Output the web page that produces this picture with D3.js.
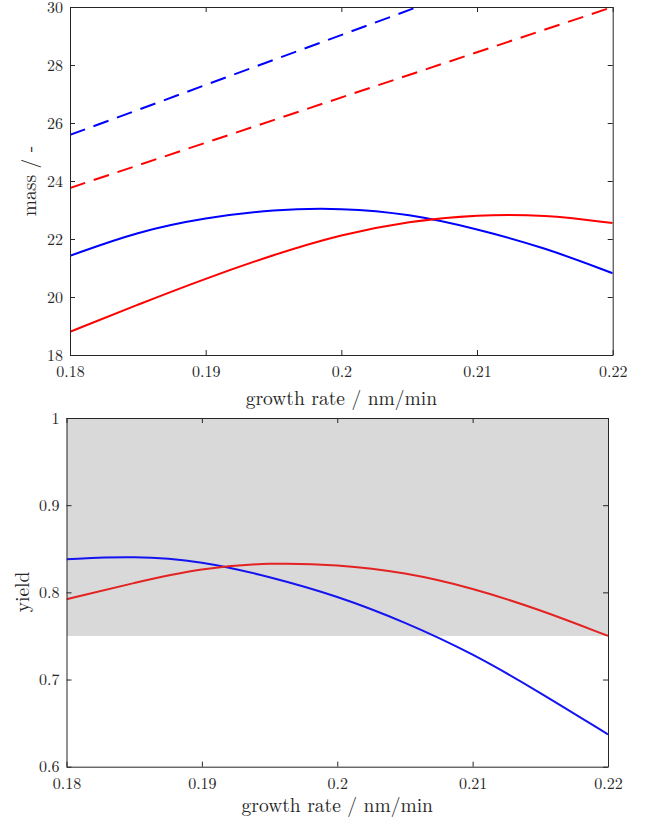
<!DOCTYPE html>
<html>
<head>
<meta charset="utf-8">
<script src="https://cdn.jsdelivr.net/npm/d3@7"></script>
<style>
  body { margin: 0; background: #fff; }
  svg text { font-family: "Latin Modern Roman", "CMU Serif", "Liberation Serif", "DejaVu Serif", "Times New Roman", Times, serif; }
</style>
</head>
<body>
<svg id="chart" width="654" height="818"></svg>
<script>
// growth rate samples (nm/min)
const rates = [0.18, 0.185, 0.19, 0.195, 0.2, 0.205, 0.21, 0.215, 0.22];

// top panel: mass
const massBlue = [21.42, 22.26, 22.74, 23.02, 23.07, 22.87, 22.35, 21.70, 20.82];
const massRed  = [18.80, 19.74, 20.64, 21.46, 22.16, 22.62, 22.84, 22.84, 22.55];
const massBlueDashed = [[0.18, 25.59], [0.2056, 30]];
const massRedDashed  = [[0.18, 23.76], [0.22, 30]];

// bottom panel: yield
const yieldBlue = [0.838, 0.842, 0.836, 0.818, 0.796, 0.766, 0.730, 0.685, 0.637];
const yieldRed  = [0.792, 0.811, 0.828, 0.834, 0.832, 0.823, 0.805, 0.780, 0.750];
const yieldBand = [0.75, 1];

const xTicks = [0.18, 0.19, 0.2, 0.21, 0.22];
const massTicks = [18, 20, 22, 24, 26, 28, 30];
const yieldTicks = [0.6, 0.7, 0.8, 0.9, 1];

const svg = d3.select("#chart");
const axisColor = "#262626";

function panel(box, yDomain, yTicks, yLabel, ylabelPos, xlabelOffset) {
  const x = d3.scaleLinear().domain([0.18, 0.22]).range([box.left, box.right]);
  const y = d3.scaleLinear().domain(yDomain).range([box.bottom, box.top]);
  const g = svg.append("g");
  const clipId = "clip" + Math.round(box.top);
  svg.append("clipPath").attr("id", clipId)
    .append("rect").attr("x", box.left).attr("y", box.top)
    .attr("width", box.right - box.left).attr("height", box.bottom - box.top);
  const plot = g.append("g").attr("clip-path", `url(#${clipId})`);
  const axes = g.append("g");
  const fmt = d => String(d);

  axes.append("g").attr("transform", `translate(0,${box.bottom})`)
    .call(d3.axisBottom(x).tickValues(xTicks).tickFormat(fmt).tickSizeInner(-5).tickSizeOuter(0).tickPadding(11));
  axes.append("g").attr("transform", `translate(0,${box.top})`)
    .call(d3.axisTop(x).tickValues(xTicks).tickFormat("").tickSizeInner(-5).tickSizeOuter(0));
  axes.append("g").attr("transform", `translate(${box.left},0)`)
    .call(d3.axisLeft(y).tickValues(yTicks).tickFormat(fmt).tickSizeInner(-5).tickSizeOuter(0).tickPadding(7));
  axes.append("g").attr("transform", `translate(${box.right},0)`)
    .call(d3.axisRight(y).tickValues(yTicks).tickFormat("").tickSizeInner(-5).tickSizeOuter(0));
  axes.selectAll("g").attr("font-family", null).attr("font-size", null);
  axes.selectAll(".domain, .tick line").attr("stroke", axisColor).attr("stroke-width", 1);
  axes.selectAll(".tick text").attr("font-size", 16).attr("fill", axisColor);

  g.append("text").attr("x", (box.left + box.right) / 2).attr("y", box.bottom + xlabelOffset)
    .attr("text-anchor", "middle").attr("font-size", 19.5)
    .attr("fill", axisColor).text("growth rate / nm/min");
  g.append("text").attr("transform", `translate(${ylabelPos[0]},${ylabelPos[1]}) rotate(-90)`)
    .attr("text-anchor", "middle").attr("font-size", 19.5)
    .attr("fill", axisColor).text(yLabel);

  return { x, y, plot, axes };
}

function line(p, pts, color, dashed) {
  const gen = d3.line().x(d => p.x(d[0])).y(d => p.y(d[1])).curve(d3.curveBasis);
  p.plot.append("path").datum(pts).attr("d", gen)
    .attr("fill", "none").attr("stroke", color).attr("stroke-width", 2)
    .attr("stroke-dasharray", dashed ? "16,9" : null);
}

// top panel
const massPanel = panel({ left: 70, right: 612.7, top: 7, bottom: 355 }, [18, 30], massTicks, "mass / -", [36, 181], 50);
line(massPanel, massBlueDashed, "#0000ff", true);
line(massPanel, massRedDashed, "#ff0000", true);
line(massPanel, d3.zip(rates, massBlue), "#0000ff", false);
line(massPanel, d3.zip(rates, massRed), "#ff0000", false);

// bottom panel
const yieldPanel = panel({ left: 66.5, right: 608, top: 418, bottom: 766.7 }, [0.6, 1], yieldTicks, "yield", [29, 592], 45.5);
yieldPanel.plot.append("rect")
  .attr("x", yieldPanel.x(0.18)).attr("y", yieldPanel.y(yieldBand[1]))
  .attr("width", yieldPanel.x(0.22) - yieldPanel.x(0.18))
  .attr("height", yieldPanel.y(yieldBand[0]) - yieldPanel.y(yieldBand[1]))
  .attr("fill", "#d9d9d9");
line(yieldPanel, d3.zip(rates, yieldBlue), "#1414f0", false);
line(yieldPanel, d3.zip(rates, yieldRed), "#e32222", false);
</script>
</body>
</html>
